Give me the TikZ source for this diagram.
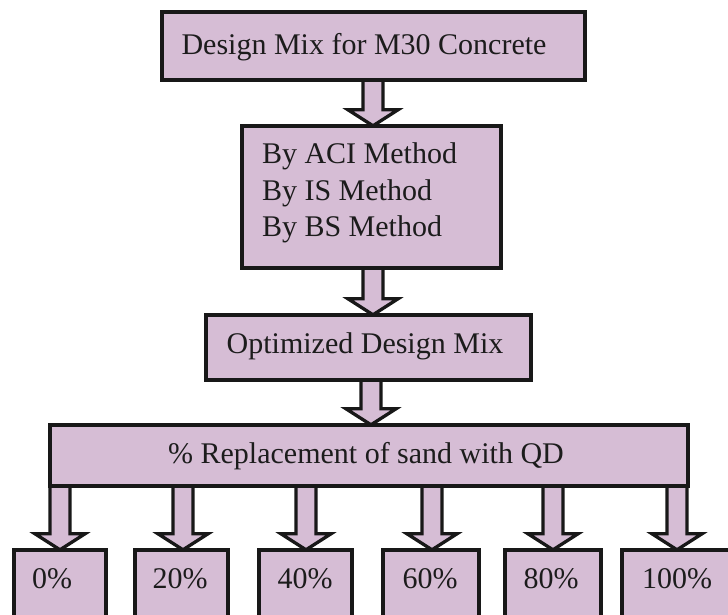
\documentclass[tikz,border=0pt]{standalone}
\usepackage{fontspec}
\setmainfont{Liberation Serif}
\usetikzlibrary{calc}
\pgfdeclarelayer{bg}
\pgfsetlayers{bg,main}
\definecolor{boxfill}{RGB}{214,189,213}
\definecolor{edgecol}{RGB}{24,24,24}
\definecolor{txtcol}{RGB}{28,28,28}
\tikzset{
  box/.style={draw=edgecol, fill=boxfill, line width=3.6pt, inner sep=0pt, outer sep=0pt, rectangle},
  arr/.style={draw=edgecol, fill=boxfill, line width=3.3pt, line join=miter, miter limit=10},
  lbl/.style={inner sep=0pt, outer sep=0pt, text=txtcol, font=\fontsize{30}{36}\selectfont}
}
\newcommand\blockarrow[3]{%
  \path[arr] let \p1=(#2.south), \p2=(#3.north) in
    (#1pt-10pt,\y1) -- (#1pt-10pt,\y2+16pt) -- (#1pt-25pt,\y2+16pt) -- (#1pt,\y2)
    -- (#1pt+25pt,\y2+16pt) -- (#1pt+10pt,\y2+16pt) -- (#1pt+10pt,\y1);}
\begin{document}
\begin{tikzpicture}[x=1pt,y=-1pt]
\useasboundingbox (0,0) rectangle (728,615);
\clip (0,0) rectangle (728,615);
% boxes
\node[box, minimum width=423.4pt, minimum height=68.4pt] (b1) at (373.5,46) {};
\node[box, minimum width=259.4pt, minimum height=142.4pt] (b2) at (371.5,197) {};
\node[box, minimum width=325.4pt, minimum height=65.4pt] (b3) at (368.5,347.5) {};
\node[box, minimum width=638.4pt, minimum height=61.4pt] (b4) at (369,455.5) {};
\node[box, minimum width=92.4pt, minimum height=83.4pt] (p0) at (60,591.5) {};
\node[box, minimum width=93.4pt, minimum height=83.4pt] (p20) at (181.5,591.5) {};
\node[box, minimum width=93.4pt, minimum height=83.4pt] (p40) at (305.5,591.5) {};
\node[box, minimum width=96.4pt, minimum height=83.4pt] (p60) at (431,591.5) {};
\node[box, minimum width=96.4pt, minimum height=83.4pt] (p80) at (553,591.5) {};
\node[box, minimum width=112.4pt, minimum height=83.4pt] (p100) at (678,591.5) {};
% texts
\node[lbl, anchor=base] (t1) at (364,55) {Design Mix for M30 Concrete};
\node[lbl, anchor=base west] (t2a) at (262,164) {By ACI Method};
\node[lbl, anchor=base west] (t2b) at (262,200) {By IS Method};
\node[lbl, anchor=base west] (t2c) at (262,236) {By BS Method};
\node[lbl, anchor=base] (t3) at (365,353) {Optimized Design Mix};
\node[lbl, anchor=base] (t4) at (366,463) {\% Replacement of sand with QD};
\node[lbl, anchor=base] (u0) at (52,588) {0\%};
\node[lbl, anchor=base] (u20) at (180,588) {20\%};
\node[lbl, anchor=base] (u40) at (305,588) {40\%};
\node[lbl, anchor=base] (u60) at (430,588) {60\%};
\node[lbl, anchor=base] (u80) at (551,588) {80\%};
\node[lbl, anchor=base] (u100) at (677,588) {100\%};
% arrows
\begin{pgfonlayer}{bg}
\fill[white] (0,0) rectangle (728,615);
\blockarrow{373}{b1}{b2}
\blockarrow{373}{b2}{b3}
\blockarrow{371}{b3}{b4}
\blockarrow{60}{b4}{p0}
\blockarrow{183}{b4}{p20}
\blockarrow{306}{b4}{p40}
\blockarrow{432}{b4}{p60}
\blockarrow{553}{b4}{p80}
\blockarrow{677}{b4}{p100}
\end{pgfonlayer}
\end{tikzpicture}
\end{document}
